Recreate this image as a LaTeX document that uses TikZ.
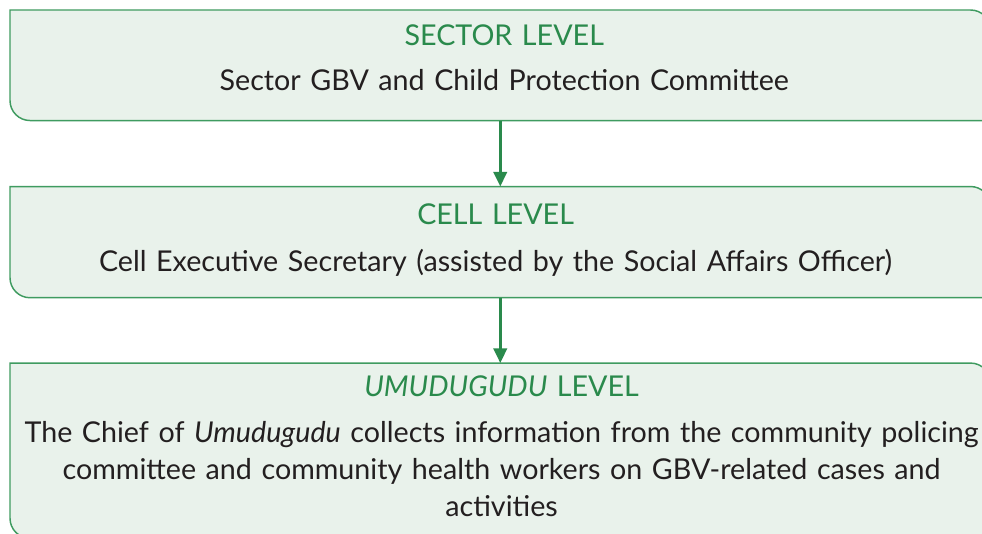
\documentclass[tikz,border=0pt]{standalone}
\usepackage{fontspec}
\setmainfont{Lato}
\usepackage{tikz}
\usetikzlibrary{arrows.meta,positioning,calc}
\definecolor{leafline}{HTML}{3F9B60}
\definecolor{leaffill}{HTML}{E9F2EB}
\definecolor{levelgreen}{HTML}{2A8A4C}
\definecolor{bodytext}{HTML}{231F20}

% box with rounded top-right and bottom-left corners
\newcommand{\leafbox}[1]{%
  \draw[leaf] (#1.north west) -- ([xshift=-15pt]#1.north east)
    arc[start angle=90, end angle=0, radius=15pt] -- (#1.south east)
    -- ([xshift=15pt]#1.south west)
    arc[start angle=270, end angle=180, radius=15pt] -- cycle;}

\begin{document}
\begin{tikzpicture}[
  level/.style={minimum width=735pt, inner sep=0pt, align=center, text=bodytext,
    font=\fontsize{21.5}{28}\selectfont},
  leaf/.style={draw=leafline, fill=leaffill, line width=1.1pt},
  arr/.style={-{Triangle[length=11pt, width=10pt]}, line width=2.2pt, levelgreen}
]
  \clip (0,0) rectangle (736.5pt,-400.5pt);

  \node[level, minimum height=82.5pt, anchor=north west] (sector) at (7.5pt,-7.5pt) {};
  \node[level, minimum height=83pt, below=49.5pt of sector] (cell) {};
  \node[level, minimum height=131pt, below=49pt of cell] (village) {};

  \leafbox{sector}
  \leafbox{cell}
  \leafbox{village}

  \node[level, text width=735pt, yshift=5.5pt] at ([xshift=3pt]sector.center)
    {{\color{levelgreen}SECTOR LEVEL}\\[6pt]
     Sector GBV and Child Protection Committee};
  \node[level, text width=735pt, yshift=1.5pt] at ([xshift=-3.5pt]cell.center)
    {{\color{levelgreen}CELL LEVEL}\\[7.5pt]
     Cell Executive Secretary (assisted by the Social Affairs Officer)};
  \node[level, text width=735pt, yshift=3pt] at ([xshift=1pt]village.center)
    {{\color{levelgreen}\textit{UMUDUGUDU} LEVEL}\\[6pt]
     The Chief of \textit{Umudugudu} collects information from the community policing\\
     committee and community health workers on GBV-related cases and\\
     activities};

  \draw[arr] (sector) -- (cell);
  \draw[arr] (cell) -- (village);
\end{tikzpicture}
\end{document}
